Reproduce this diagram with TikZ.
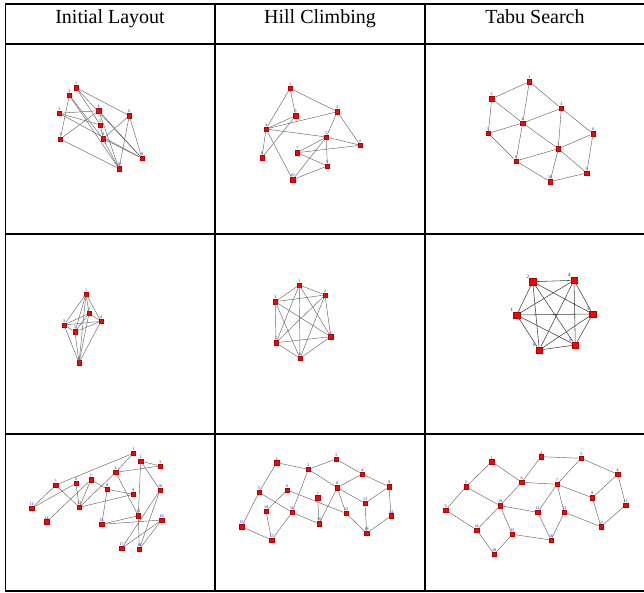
\documentclass[tikz,border=0pt]{standalone}
\usepackage{fontspec}
\setmainfont{Liberation Serif}
\begin{document}
\begin{tikzpicture}[x=1pt,y=-1pt,
  v/.style={rectangle,fill=red,draw=red!70!black,line width=0.3pt,minimum size=4.5pt,inner sep=0pt},
  vb/.style={v,minimum size=6.5pt},
  e/.style={draw=black!60,line width=0.45pt},
  eb/.style={draw=black!75,line width=0.55pt},
  lab/.style={font=\fontsize{4}{4}\selectfont,text=blue!85!black,inner sep=0.1pt},
  grid/.style={line width=1.3pt,black},
  head/.style={font=\fontsize{20}{20}\selectfont,anchor=base}]
\useasboundingbox (0,0) rectangle (644,593);
% table
\draw[grid] (5,4) -- (644,4);
\draw[grid] (5,44) -- (644,44);
\draw[grid] (5,234) -- (644,234);
\draw[grid] (5,434) -- (644,434);
\draw[grid] (5,591) -- (644,591);
\draw[grid] (5.5,4) -- (5.5,591);
\draw[grid] (215,4) -- (215,591);
\draw[grid] (425,4) -- (425,591);
\node[head] (h1) at (110,24) {Initial Layout};
\node[head] (h2) at (320,24) {Hill Climbing};
\node[head] (h3) at (535,24) {Tabu Search};

% ---------- row 1 initial
\foreach \n/\x/\y in {1/76/87.7,2/69.3/95.3,3/59/113.3,4/98.7/110.7,5/100.3/125,6/129.3/115.7,7/60.3/139,8/103/138.7,9/142/158.3,10/119/168.7}
  \node[v,label={[lab]above:\n}] (a\n) at (\x,\y) {};
\foreach \p/\q in {1/6,1/5,1/9,2/7,2/10,2/8,3/4,3/5,3/9,4/7,4/10,4/9,6/8,6/10,6/9,7/10,8/10,8/9,5/8}
  \draw[e] (a\p) -- (a\q);

% ---------- row 1 hill
\foreach \n/\x/\y in {1/290/88.3,2/337.3/111.7,3/295.7/115.7,4/266/129,5/326.3/137,6/360.3/145.3,7/297.3/152.7,8/262/157.7,9/327.3/166,10/292.7/179.7}
  \node[v,label={[lab]above:\n}] (b\n) at (\x,\y) {};
\foreach \p/\q in {1/3,1/4,1/2,2/4,2/5,2/6,3/4,3/8,4/5,4/8,4/10,5/6,5/7,5/9,5/10,6/7,7/9,9/10}
  \draw[e] (b\p) -- (b\q);

% ---------- row 1 tabu
\foreach \n/\x/\y in {1/529.3/81.7,2/491.7/98.7,3/561.3/108.3,4/522.7/123,5/488.3/133.3,6/593/133.7,7/558.3/148.7,8/516/161,9/586.7/173,10/550/181.7}
  \node[v,label={[lab]above:\n}] (c\n) at (\x,\y) {};
\foreach \p/\q in {1/2,1/4,1/3,2/4,2/5,3/4,3/6,3/7,4/5,4/7,4/8,5/8,6/7,6/9,7/8,7/9,7/10,8/10,9/10}
  \draw[e] (c\p) -- (c\q);

% ---------- row 2 initial
\foreach \n/\x/\y in {1/86/294,2/89/313.3,3/64/325,4/101/321.3,5/75/331.7,6/79/362.7}
  \node[v,label={[lab]above:\n}] (d\n) at (\x,\y) {};
\foreach \p in {1,...,5}{
  \pgfmathtruncatemacro{\s}{\p+1}
  \foreach \q in {\s,...,6} \draw[e] (d\p) -- (d\q);}

% ---------- row 2 hill
\foreach \n/\x/\y in {1/299.3/285,2/325/295,3/275.3/301.7,4/330.7/336.7,5/276/342.7,6/300/358.3}
  \node[v,label={[lab]above:\n}] (f\n) at (\x,\y) {};
\foreach \p in {1,...,5}{
  \pgfmathtruncatemacro{\s}{\p+1}
  \foreach \q in {\s,...,6} \draw[e] (f\p) -- (f\q);}

% ---------- row 2 tabu
\foreach \n/\x/\y/\l in {1/532.7/281.7/2,2/574/280.3/4,3/516.7/315/1,4/592.7/314/3,5/539.3/350/6,6/575.3/345/5}
  \node[vb,label={[lab,font=\fontsize{5}{5}\selectfont]above left:\l}] (g\n) at (\x,\y) {};
\foreach \p in {1,...,5}{
  \pgfmathtruncatemacro{\s}{\p+1}
  \foreach \q in {\s,...,6} \draw[eb] (g\p) -- (g\q);}

% ---------- row 3 initial
\foreach \n/\x/\y in {1/133.3/453.3,2/140.7/461,3/160/466,4/115.7/472.3,5/55.7/485,6/76/483.3,7/91/479.7,8/107.3/489.3,9/133.3/494.3,10/160/490,11/31.7/508.3,12/79.3/507.3,13/138.3/515.7,14/46.7/521.7,15/101.7/524.3,16/161.7/520,17/121.7/548.3,18/139.3/549}
  \node[v,label={[lab]above:\n}] (m\n) at (\x,\y) {};
\foreach \p/\q in {1/5,1/4,2/3,2/13,2/10,4/3,4/13,4/12,5/11,5/12,6/11,6/12,7/14,7/12,7/8,8/9,8/15,12/9,13/15,15/16,10/17,10/18,13/18,16/18,16/17}
  \draw[e] (m\p) -- (m\q);

% ---------- row 3 hill
\foreach \n/\x/\y in {1/276.7/462.7,2/308.3/469.3,3/336/459,4/362/474,5/259/492.3,6/287.3/490,7/317.7/497.7,8/337.3/487.7,9/389/486.7,10/266/511,11/292/512.3,12/346/513.3,13/365/503.3,14/391/515.7,15/241.7/526.7,16/319/523.7,17/271.7/540,18/366.7/533.3}
  \node[v,label={[lab]above:\n}] (n\n) at (\x,\y) {};
\foreach \p/\q in {1/2,1/5,2/3,2/8,2/11,3/4,4/8,4/9,5/15,5/11,6/10,6/12,7/16,8/12,8/13,8/16,9/13,9/14,13/18,14/18,11/16,11/17,12/18,15/17,10/17}
  \draw[e] (n\p) -- (n\q);

% ---------- row 3 tabu
\foreach \n/\x/\y in {1/491.7/461.7,2/541/456.7,3/581/458.3,4/617.7/474.3,5/466/486.7,6/521.7/482.3,7/557/484.3,8/592.3/497.7,9/445.7/510,10/500/505.7,11/537.7/512.3,12/564.3/512.3,13/625.7/505,14/476.7/530,15/512.3/534.3,16/551/540,17/601/526.7,18/494.3/554.3}
  \node[v,label={[lab]above:\n}] (t\n) at (\x,\y) {};
\foreach \p/\q in {1/5,1/6,2/3,2/6,3/7,3/4,4/8,4/13,5/9,5/10,6/7,6/10,7/8,7/11,7/12,8/17,9/14,10/11,10/14,10/15,11/16,12/16,12/17,13/17,14/18,15/18,15/16}
  \draw[e] (t\p) -- (t\q);
\end{tikzpicture}
\end{document}
